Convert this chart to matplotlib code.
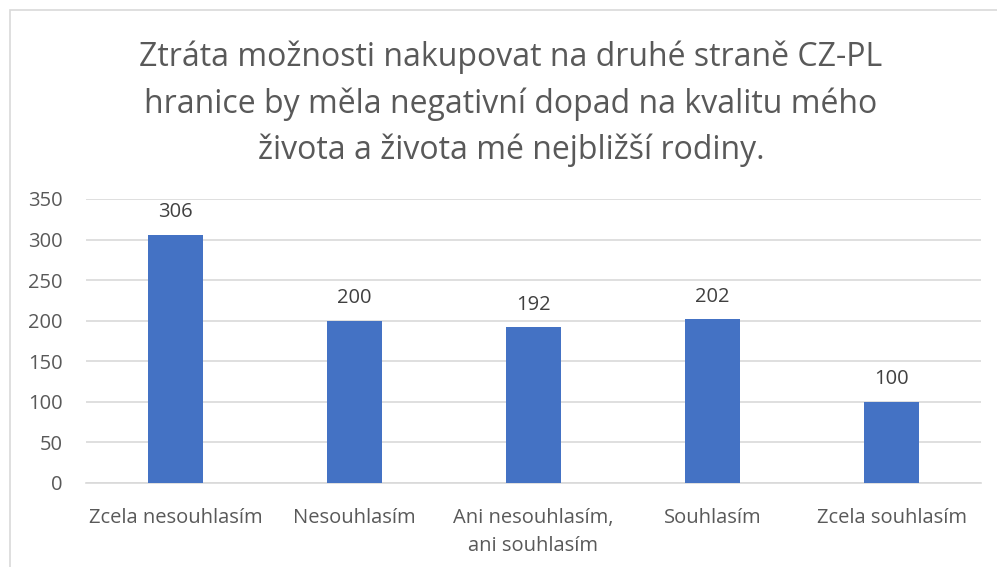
import matplotlib
matplotlib.use("Agg")
import matplotlib.pyplot as plt
from matplotlib.patches import Rectangle

categories = ["Zcela nesouhlasím", "Nesouhlasím", "Ani nesouhlasím,\nani souhlasím",
              "Souhlasím", "Zcela souhlasím"]
values = [306, 200, 192, 202, 100]
yticks = [0, 50, 100, 150, 200, 250, 300, 350]
title = ("Ztráta možnosti nakupovat na druhé straně CZ-PL\n"
         "hranice by měla negativní dopad na kvalitu mého\n"
         "života a života mé nejbližší rodiny.")

plt.rcParams['font.family'] = ['Open Sans', 'DejaVu Sans']
text_color = "#595959"

W, H = 997, 567
fig = plt.figure(figsize=(W / 100, H / 100), dpi=100)

# chart frame
fig.patches.append(Rectangle((10 / W, -0.05), 1.2, (H - 9.5) / H + 0.05,
                             transform=fig.transFigure, fill=False,
                             edgecolor="#d9d9d9", linewidth=1.2))

ax = fig.add_axes([86 / W, 1 - 483 / H, (981 - 86) / W, (483 - 199) / H])
x = range(len(categories))
bars = ax.bar(x, values, width=0.31, color="#4472C4", zorder=3)
ax.set_xlim(-0.5, len(categories) - 0.5)
ax.set_ylim(0, 350)
ax.set_yticks(yticks)
ax.set_xticks(list(x))
ax.set_xticklabels(categories, fontsize=14.5, color=text_color, linespacing=1.55)
ax.tick_params(axis='y', labelsize=14.5, labelcolor=text_color, length=0, pad=17)
ax.tick_params(axis='x', length=0, pad=18)
ax.grid(axis='y', color="#d9d9d9", linewidth=1.2, zorder=0)
for s in ["top", "right", "left"]:
    ax.spines[s].set_visible(False)
ax.spines["bottom"].set_color("#d9d9d9")
ax.spines["bottom"].set_linewidth(1.2)

for b, v in zip(bars, values):
    ax.annotate(str(v), (b.get_x() + b.get_width() / 2, v), xytext=(0, 9),
                textcoords="offset points", ha="center", va="bottom",
                fontsize=14.5, color="#404040")

fig.text(511 / W, 1 - 41 / H, title, ha="center", va="top", fontsize=23,
         color=text_color, linespacing=1.5)

fig.savefig("out.png", dpi=100)
